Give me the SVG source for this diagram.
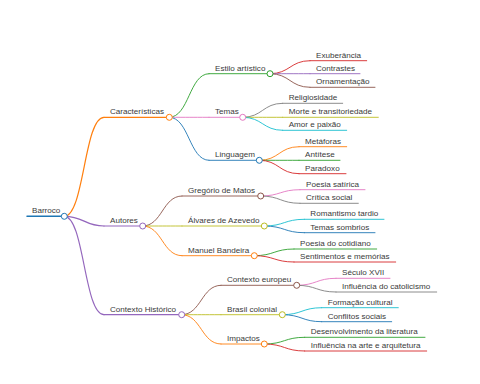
<svg xmlns="http://www.w3.org/2000/svg" width="480" height="384" viewBox="0 0 480 384">
<style>
text{font-family:"Liberation Sans",Arial,sans-serif;font-size:8.1px;fill:#3a3a3a}
path,line{fill:none;stroke-linecap:round}
circle{fill:#fff;stroke-width:1}
.l{stroke-width:0.9}
.k{stroke-width:0.9}
.c0{stroke:#1f77b4}.c1{stroke:#ff7f0e}.c2{stroke:#2ca02c}.c3{stroke:#d62728}.c4{stroke:#9467bd}
.c5{stroke:#8c564b}.c6{stroke:#e377c2}.c7{stroke:#7f7f7f}.c8{stroke:#bcbd22}.c9{stroke:#17becf}
</style>
<rect width="480" height="384" fill="#fff"/>
<g id="connectors">
<path class="k c1" d="M64.3,216.3 C84.15,216.3 84.15,117.3 104,117.3" style="stroke-width:1.2"/>
<path class="k c4" d="M64.3,216.3 C84.15,216.3 84.15,226 104,226" style="stroke-width:1.2"/>
<path class="k c4" d="M64.3,216.3 C84.15,216.3 84.15,314.7 104,314.7" style="stroke-width:1.2"/>
<path class="k c2" d="M169.3,117.3 C189.15,117.3 189.15,73.7 209,73.7"/>
<path class="k c6" d="M169.3,117.3 C189.15,117.3 189.15,117.3 209,117.3"/>
<path class="k c0" d="M169.3,117.3 C189.15,117.3 189.15,160.3 209,160.3"/>
<path class="k c3" d="M270,73.7 C290,73.7 290,60.7 310,60.7"/>
<path class="k c4" d="M270,73.7 C290,73.7 290,73.7 310,73.7"/>
<path class="k c5" d="M270,73.7 C290,73.7 290,87.3 310,87.3"/>
<path class="k c7" d="M242.7,117.3 C262.7,117.3 262.7,103.3 282.7,103.3"/>
<path class="k c8" d="M242.7,117.3 C262.7,117.3 262.7,117.3 282.7,117.3"/>
<path class="k c9" d="M242.7,117.3 C262.7,117.3 262.7,130.3 282.7,130.3"/>
<path class="k c1" d="M259.3,160.3 C279.15,160.3 279.15,146.7 299,146.7"/>
<path class="k c2" d="M259.3,160.3 C279.15,160.3 279.15,160.3 299,160.3"/>
<path class="k c3" d="M259.3,160.3 C279.15,160.3 279.15,173.7 299,173.7"/>
<path class="k c5" d="M142.7,226 C162.35,226 162.35,196 182,196"/>
<path class="k c8" d="M142.7,226 C162.35,226 162.35,226 182,226"/>
<path class="k c1" d="M142.7,226 C162.35,226 162.35,255.7 182,255.7"/>
<path class="k c6" d="M260.7,196 C280.35,196 280.35,189.7 300,189.7"/>
<path class="k c7" d="M260.7,196 C280.35,196 280.35,203.3 300,203.3"/>
<path class="k c9" d="M264.3,226 C284.3,226 284.3,219.3 304.3,219.3"/>
<path class="k c0" d="M264.3,226 C284.3,226 284.3,232.7 304.3,232.7"/>
<path class="k c2" d="M254.3,255.7 C274.15,255.7 274.15,249 294,249"/>
<path class="k c3" d="M254.3,255.7 C274.15,255.7 274.15,262 294,262"/>
<path class="k c5" d="M181.7,314.7 C201.35,314.7 201.35,285.3 221,285.3"/>
<path class="k c8" d="M181.7,314.7 C201.35,314.7 201.35,314.7 221,314.7"/>
<path class="k c1" d="M181.7,314.7 C201.35,314.7 201.35,344 221,344"/>
<path class="k c6" d="M296.7,285.3 C316.35,285.3 316.35,278.3 336,278.3"/>
<path class="k c7" d="M296.7,285.3 C316.35,285.3 316.35,292 336,292"/>
<path class="k c9" d="M282.3,314.7 C302,314.7 302,307.7 321.7,307.7"/>
<path class="k c0" d="M282.3,314.7 C302,314.7 302,321.7 321.7,321.7"/>
<path class="k c2" d="M264.3,344 C284.5,344 284.5,337.3 304.7,337.3"/>
<path class="k c3" d="M264.3,344 C284.5,344 284.5,351 304.7,351"/>
</g>
<g id="n-barroco"><line class="l c0" x1="27" y1="216.3" x2="64.3" y2="216.3" style="stroke-width:1.5"/><circle class="c0" cx="64.3" cy="216.3" r="3"/><text x="32" y="213.3">Barroco</text></g>
<g id="n-caracteristicas"><line class="l c1" x1="104" y1="117.3" x2="169.3" y2="117.3" style="stroke-width:1.2"/><circle class="c1" cx="169.3" cy="117.3" r="3"/><text x="110" y="114.3">Características</text></g>
<g id="n-estilo"><line class="l c2" x1="209" y1="73.7" x2="270" y2="73.7"/><circle class="c2" cx="270" cy="73.7" r="3"/><text x="215" y="70.7">Estilo artístico</text></g>
<g id="n-exuberancia"><line class="l c3" x1="310" y1="60.7" x2="366.7" y2="60.7"/><text x="316" y="57.7">Exuberância</text></g>
<g id="n-contrastes"><line class="l c4" x1="310" y1="73.7" x2="360" y2="73.7"/><text x="316" y="70.7">Contrastes</text></g>
<g id="n-ornamentacao"><line class="l c5" x1="310" y1="87.3" x2="375" y2="87.3"/><text x="316" y="84.3">Ornamentação</text></g>
<g id="n-temas"><line class="l c6" x1="209" y1="117.3" x2="242.7" y2="117.3"/><circle class="c6" cx="242.7" cy="117.3" r="3"/><text x="215" y="114.3">Temas</text></g>
<g id="n-religiosidade"><line class="l c7" x1="282.7" y1="103.3" x2="342.7" y2="103.3"/><text x="288.7" y="100.3">Religiosidade</text></g>
<g id="n-morte"><line class="l c8" x1="282.7" y1="117.3" x2="378.3" y2="117.3"/><text x="288.7" y="114.3">Morte e transitoriedade</text></g>
<g id="n-amor"><line class="l c9" x1="282.7" y1="130.3" x2="346.7" y2="130.3"/><text x="288.7" y="127.3">Amor e paixão</text></g>
<g id="n-linguagem"><line class="l c0" x1="209" y1="160.3" x2="259.3" y2="160.3"/><circle class="c0" cx="259.3" cy="160.3" r="3"/><text x="215" y="157.3">Linguagem</text></g>
<g id="n-metaforas"><line class="l c1" x1="299" y1="146.7" x2="346.7" y2="146.7"/><text x="305" y="143.7">Metáforas</text></g>
<g id="n-antitese"><line class="l c2" x1="299" y1="160.3" x2="340" y2="160.3"/><text x="305" y="157.3">Antítese</text></g>
<g id="n-paradoxo"><line class="l c3" x1="299" y1="173.7" x2="346" y2="173.7"/><text x="305" y="170.7">Paradoxo</text></g>
<g id="n-autores"><line class="l c4" x1="104" y1="226" x2="142.7" y2="226" style="stroke-width:1.2"/><circle class="c4" cx="142.7" cy="226" r="3"/><text x="110" y="223">Autores</text></g>
<g id="n-gregorio"><line class="l c5" x1="182" y1="196" x2="260.7" y2="196"/><circle class="c5" cx="260.7" cy="196" r="3"/><text x="188" y="193">Gregório de Matos</text></g>
<g id="n-satirica"><line class="l c6" x1="300" y1="189.7" x2="365" y2="189.7"/><text x="306" y="186.7">Poesia satírica</text></g>
<g id="n-critica"><line class="l c7" x1="300" y1="203.3" x2="358.3" y2="203.3"/><text x="306" y="200.3">Crítica social</text></g>
<g id="n-alvares"><line class="l c8" x1="182" y1="226" x2="264.3" y2="226"/><circle class="c8" cx="264.3" cy="226" r="3"/><text x="188" y="223">Álvares de Azevedo</text></g>
<g id="n-romantismo"><line class="l c9" x1="304.3" y1="219.3" x2="384" y2="219.3"/><text x="310.3" y="216.3">Romantismo tardio</text></g>
<g id="n-sombrios"><line class="l c0" x1="304.3" y1="232.7" x2="375" y2="232.7"/><text x="310.3" y="229.7">Temas sombrios</text></g>
<g id="n-bandeira"><line class="l c1" x1="182" y1="255.7" x2="254.3" y2="255.7"/><circle class="c1" cx="254.3" cy="255.7" r="3"/><text x="188" y="252.7">Manuel Bandeira</text></g>
<g id="n-cotidiano"><line class="l c2" x1="294" y1="249" x2="376.7" y2="249"/><text x="300" y="246">Poesia do cotidiano</text></g>
<g id="n-sentimentos"><line class="l c3" x1="294" y1="262" x2="395.7" y2="262"/><text x="300" y="259">Sentimentos e memórias</text></g>
<g id="n-contexto"><line class="l c4" x1="104" y1="314.7" x2="181.7" y2="314.7" style="stroke-width:1.2"/><circle class="c4" cx="181.7" cy="314.7" r="3"/><text x="110" y="311.7">Contexto Histórico</text></g>
<g id="n-europeu"><line class="l c5" x1="221" y1="285.3" x2="296.7" y2="285.3"/><circle class="c5" cx="296.7" cy="285.3" r="3"/><text x="227" y="282.3">Contexto europeu</text></g>
<g id="n-seculo"><line class="l c6" x1="336" y1="278.3" x2="390" y2="278.3"/><text x="342" y="275.3">Século XVII</text></g>
<g id="n-catolicismo"><line class="l c7" x1="336" y1="292" x2="436.7" y2="292"/><text x="342" y="289">Influência do catolicismo</text></g>
<g id="n-brasil"><line class="l c8" x1="221" y1="314.7" x2="282.3" y2="314.7"/><circle class="c8" cx="282.3" cy="314.7" r="3"/><text x="227" y="311.7">Brasil colonial</text></g>
<g id="n-formacao"><line class="l c9" x1="321.7" y1="307.7" x2="398.3" y2="307.7"/><text x="327.7" y="304.7">Formação cultural</text></g>
<g id="n-conflitos"><line class="l c0" x1="321.7" y1="321.7" x2="391.7" y2="321.7"/><text x="327.7" y="318.7">Conflitos sociais</text></g>
<g id="n-impactos"><line class="l c1" x1="221" y1="344" x2="264.3" y2="344"/><circle class="c1" cx="264.3" cy="344" r="3"/><text x="227" y="341">Impactos</text></g>
<g id="n-desenvolvimento"><line class="l c2" x1="304.7" y1="337.3" x2="425" y2="337.3"/><text x="310.7" y="334.3">Desenvolvimento da literatura</text></g>
<g id="n-arte"><line class="l c3" x1="304.7" y1="351" x2="426.7" y2="351"/><text x="310.7" y="348">Influência na arte e arquitetura</text></g>
</svg>
